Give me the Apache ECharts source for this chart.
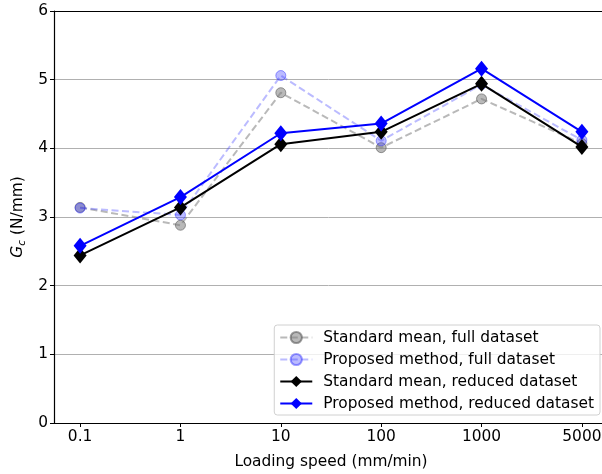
<!DOCTYPE html>
<html>
<head>
<meta charset="utf-8">
<script src="https://cdn.jsdelivr.net/npm/echarts@6/dist/echarts.min.js"></script>
<style>html,body{margin:0;padding:0;background:#fff}#c{width:602px;height:474px}</style>
</head>
<body>
<div id="c"></div>
<script>
const categories = ['0.1', '1', '10', '100', '1000', '5000'];
const stdFull = [3.14, 2.88, 4.81, 4.01, 4.72, 4.07];
const propFull = [3.13, 3.03, 5.06, 4.11, 4.93, 4.12];
const stdReduced = [2.44, 3.14, 4.06, 4.24, 4.94, 4.02];
const propReduced = [2.58, 3.29, 4.22, 4.36, 5.16, 4.24];
const yTicks = [0, 1, 2, 3, 4, 5, 6];
const seriesNames = ['Standard mean, full dataset', 'Proposed method, full dataset', 'Standard mean, reduced dataset', 'Proposed method, reduced dataset'];

const toPts = arr => arr.map((v, i) => [i, v]);
const font = 'DejaVu Sans';
const fs = 15.4;
const chart = echarts.init(document.getElementById('c'), null, {renderer: 'canvas'});

chart.setOption({
  animation: false,
  textStyle: {fontFamily: font},
  grid: {left: 54, right: -6, top: 11, bottom: 51, containLabel: false, outerBoundsMode: 'none'},
  legend: {
    orient: 'vertical', right: 2, bottom: 59,
    itemWidth: 32, itemHeight: 14, itemGap: 7,
    padding: [5, 6, 4, 5],
    backgroundColor: 'rgba(255,255,255,0.8)',
    borderColor: '#d0d0d0', borderWidth: 1, borderRadius: 3,
    textStyle: {fontFamily: font, fontSize: fs, color: '#000', padding: [0, 0, 0, 6]},
    data: seriesNames
  },
  xAxis: [{
    type: 'value', min: -0.26, max: 5.26,
    name: 'Loading speed (mm/min)', nameLocation: 'middle', nameGap: 31,
    nameTextStyle: {fontFamily: font, fontSize: fs, color: '#000'},
    axisLine: {show: true, onZero: false, lineStyle: {color: '#000', width: 1.2}},
    axisTick: {show: true, length: 4, inside: false, customValues: categories.map((c, i) => i), lineStyle: {color: '#000'}},
    axisLabel: {customValues: categories.map((c, i) => i), formatter: v => categories[Math.round(v)], fontFamily: font, fontSize: fs, color: '#000', margin: 6},
    splitLine: {show: false}
  }, {
    type: 'value', position: 'top', min: -0.26, max: 5.26,
    axisLine: {show: true, onZero: false, lineStyle: {color: '#000', width: 1.2}},
    axisTick: {show: false}, axisLabel: {show: false}, splitLine: {show: false}
  }],
  yAxis: {
    type: 'value', min: yTicks[0], max: yTicks[yTicks.length - 1], interval: 1,
    name: '{i|G}{s|c} (N/mm)', nameLocation: 'middle', nameGap: 26, nameRotate: 90,
    nameTextStyle: {fontFamily: font, fontSize: fs, color: '#000',
      rich: {i: {fontStyle: 'italic', fontFamily: font, fontSize: fs}, s: {fontStyle: 'italic', fontFamily: font, fontSize: 10.5, verticalAlign: 'bottom', padding: [7, 0, 0, 0]}}},
    axisLine: {show: true, onZero: false, lineStyle: {color: '#000', width: 1.2}},
    axisTick: {show: true, length: 4, lineStyle: {color: '#000'}},
    axisLabel: {fontFamily: font, fontSize: fs, color: '#000', margin: 6},
    splitLine: {show: true, lineStyle: {color: '#b0b0b0', width: 1}}
  },
  series: [
    {name: seriesNames[0], type: 'line', data: toPts(stdFull), symbol: 'circle', symbolSize: 10,
      lineStyle: {color: 'rgba(128,128,128,0.55)', width: 2, type: [7, 3.5]},
      itemStyle: {color: 'rgba(128,128,128,0.55)', borderColor: 'rgba(90,90,90,0.6)', borderWidth: 1}, z: 2},
    {name: seriesNames[1], type: 'line', data: toPts(propFull), symbol: 'circle', symbolSize: 10,
      lineStyle: {color: 'rgba(60,60,255,0.35)', width: 2, type: [7, 3.5]},
      itemStyle: {color: 'rgba(60,60,255,0.35)', borderColor: 'rgba(40,40,255,0.45)', borderWidth: 1}, z: 3},
    {name: seriesNames[2], type: 'line', data: toPts(stdReduced), symbol: 'diamond', symbolSize: [13, 16],
      lineStyle: {color: '#000', width: 2}, itemStyle: {color: '#000'}, z: 4},
    {name: seriesNames[3], type: 'line', data: toPts(propReduced), symbol: 'diamond', symbolSize: [13, 16],
      lineStyle: {color: '#0000ff', width: 2}, itemStyle: {color: '#0000ff'}, z: 5}
  ]
});
</script>
</body>
</html>
